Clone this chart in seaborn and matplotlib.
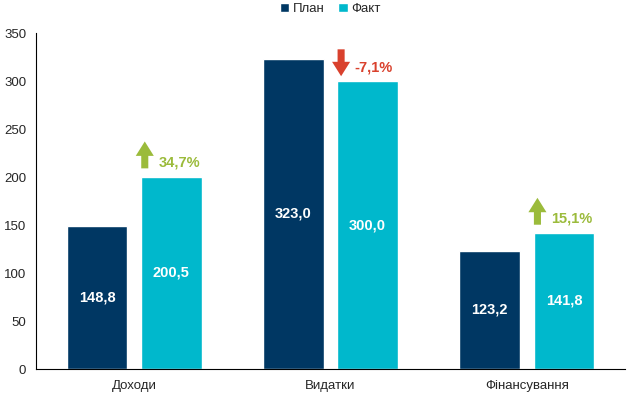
import matplotlib
matplotlib.use("Agg")
import matplotlib.pyplot as plt
import seaborn as sns
import pandas as pd
from matplotlib.patches import FancyArrow

categories = ["Доходи", "Видатки", "Фінансування"]
plan = [148.8, 323.0, 123.2]
fact = [200.5, 300.0, 141.8]
changes = ["34,7%", "-7,1%", "15,1%"]
series = ["План", "Факт"]
yticks = [0, 50, 100, 150, 200, 250, 300, 350]

NAVY = "#003763"
CYAN = "#00B8CC"
GREEN = "#9BBB3B"
RED = "#D9412D"

sns.set_style("white")
plt.rcParams["font.family"] = ["Liberation Sans", "DejaVu Sans"]

df = pd.DataFrame({
    "cat": categories * 2,
    "series": [series[0]] * 3 + [series[1]] * 3,
    "val": plan + fact,
})

fig = plt.figure(figsize=(6.29, 3.95), dpi=100)
ax = fig.add_axes([36 / 629, 1 - 369 / 395, 589 / 629, 336 / 395])

sns.barplot(data=df, x="cat", y="val", hue="series", palette=[NAVY, CYAN],
            width=0.756, gap=0.18, ax=ax, errorbar=None, saturation=1)

ax.set_xlim(-0.5, 2.5)
ax.set_ylim(0, 350)
ax.set_yticks(yticks)
ax.set_yticklabels([str(v) for v in yticks], fontsize=9.5)
ax.set_xlabel("")
ax.set_ylabel("")
ax.set_xticks([0, 1, 2])
ax.set_xticklabels(categories, fontsize=9.5)
ax.tick_params(axis="x", length=0, pad=8)
ax.set_xticks([0.5, 1.5, 2.5], minor=True)
ax.tick_params(axis="x", which="minor", length=6, direction="inout", width=0.8)
ax.tick_params(axis="y", length=4, direction="out", width=0.8, pad=3)
for s in ["top", "right"]:
    ax.spines[s].set_visible(False)
for s in ["left", "bottom"]:
    ax.spines[s].set_color("black")
    ax.spines[s].set_linewidth(0.8)

# value labels
for cont in ax.containers:
    for bar in cont:
        h = bar.get_height()
        ax.text(bar.get_x() + bar.get_width() / 2, h / 2,
                f"{h:.1f}".replace(".", ","), ha="center", va="center",
                color="white", fontsize=10.5, fontweight="bold")

# change arrows
fact_bars = ax.containers[1]
for i, bar in enumerate(fact_bars):
    h = bar.get_height()
    up = not changes[i].startswith("-")
    col = GREEN if up else RED
    x = bar.get_x() + 0.02
    if up:
        y0 = h + 8.5
        ar = FancyArrow(x, y0, 0, 28, width=0.036, head_width=0.092,
                        head_length=15, length_includes_head=True,
                        color=col, linewidth=0)
        ty = y0 + 6
    else:
        y0 = h + 33
        ar = FancyArrow(x, y0, 0, -28, width=0.036, head_width=0.092,
                        head_length=15, length_includes_head=True,
                        color=col, linewidth=0)
        ty = y0 - 19
    ax.add_patch(ar)
    ax.text(x + 0.07, ty, changes[i], ha="left", va="center", color=col,
            fontsize=10.5, fontweight="bold")

leg = ax.legend(loc="upper center", bbox_to_anchor=(0.5, 1.105), ncol=2,
                frameon=False, fontsize=9.5, handlelength=0.7, handleheight=0.7,
                handletextpad=0.3, columnspacing=1.0, borderaxespad=0)

fig.savefig("out.png", dpi=100)
